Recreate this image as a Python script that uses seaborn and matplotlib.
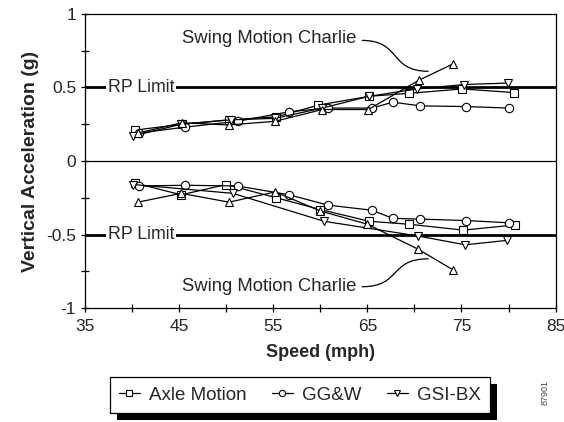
import pandas as pd
import seaborn as sns
import matplotlib.pyplot as plt
import numpy as np
from matplotlib.lines import Line2D
from matplotlib.patches import Rectangle, PathPatch
from matplotlib.path import Path

# upper (positive) and lower (negative) peaks
axle_up_x = [40.3, 45.3, 50.3, 55.3, 59.8, 65.2, 69.4, 75.1, 80.6]
axle_up_y = [0.21, 0.25, 0.28, 0.30, 0.38, 0.44, 0.46, 0.49, 0.465]
axle_lo_x = [40.3, 45.2, 50.0, 55.3, 60.0, 65.2, 69.4, 75.2, 80.7]
axle_lo_y = [-0.15, -0.23, -0.16, -0.25, -0.33, -0.41, -0.43, -0.47, -0.435]

ggw_x = [40.7, 45.6, 51.2, 56.7, 60.8, 65.5, 67.7, 70.6, 75.5, 80.0]
ggw_up_y = [0.19, 0.23, 0.27, 0.335, 0.36, 0.36, 0.40, 0.375, 0.37, 0.36]
ggw_lo_y = [-0.17, -0.165, -0.17, -0.23, -0.30, -0.335, -0.39, -0.395, -0.405, -0.42]

gsi_up_x = [40.1, 45.2, 50.5, 55.2, 60.2, 65.2, 70.3, 75.3, 79.9]
gsi_up_y = [0.17, 0.25, 0.28, 0.29, 0.36, 0.44, 0.49, 0.52, 0.53]
gsi_lo_x = [40.1, 50.7, 60.4, 70.4, 75.4, 79.8]
gsi_lo_y = [-0.16, -0.22, -0.41, -0.51, -0.57, -0.54]

charlie_up_x = [40.6, 45.3, 50.3, 55.2, 60.2, 65.1, 70.5, 74.1]
charlie_up_y = [0.19, 0.26, 0.245, 0.27, 0.35, 0.35, 0.55, 0.66]
charlie_lo_x = [40.6, 45.2, 50.3, 55.2, 60.0, 65.0, 70.4, 74.1]
charlie_lo_y = [-0.28, -0.22, -0.28, -0.21, -0.34, -0.43, -0.60, -0.74]

rp_limit = [0.5, -0.5]
xticks = [35, 45, 55, 65, 75, 85]
yticks = [-1, -0.5, 0, 0.5, 1]
ytick_labels = ['-1', '-0.5', '0', '0.5', '1']

sns.set_style("ticks")
plt.rcParams['font.family'] = ['Liberation Sans', 'DejaVu Sans']
plt.rcParams['axes.unicode_minus'] = False

fig = plt.figure(figsize=(5.64, 4.22), dpi=100)
ax = fig.add_axes([0.151, 0.270, 0.834, 0.697])

series = [
    ('Axle Motion', 's', axle_up_x, axle_up_y, axle_lo_x, axle_lo_y),
    ('GG&W', 'o', ggw_x, ggw_up_y, ggw_x, ggw_lo_y),
    ('GSI-BX', 'v', gsi_up_x, gsi_up_y, gsi_lo_x, gsi_lo_y),
    ('Swing Motion Charlie', '^', charlie_up_x, charlie_up_y, charlie_lo_x, charlie_lo_y),
]

rows = []
for name, m, ux, uy, lx, ly in series:
    for x, y in zip(ux, uy):
        rows.append({'series': name, 'half': 'up', 'Speed': x, 'Acc': y})
    for x, y in zip(lx, ly):
        rows.append({'series': name, 'half': 'lo', 'Speed': x, 'Acc': y})
df = pd.DataFrame(rows)

for name, m, *_ in series:
    for half in ['up', 'lo']:
        sub = df[(df.series == name) & (df.half == half)]
        sns.lineplot(ax=ax, data=sub, x='Speed', y='Acc', sort=False, estimator=None,
                     color='black', lw=0.9, marker=m, markersize=6,
                     markerfacecolor='white', markeredgecolor='black', markeredgewidth=0.8,
                     legend=False, zorder=3)

# reference lines
ax.axhline(0, color='black', lw=0.9, zorder=1)
for v in rp_limit:
    ax.axhline(v, color='black', lw=2.0, zorder=1)
    ax.text(37.4, v, 'RP Limit', fontsize=12.8, va='center', ha='left',
            bbox=dict(facecolor='white', edgecolor='none', pad=1), zorder=2)

# Swing Motion Charlie labels with curvy leaders
def leader(x0, y0, x1, y1):
    dx = (x1 - x0) * 0.6
    verts = [(x0, y0), (x0 + dx, y0), (x1 - dx, y1), (x1, y1)]
    p = Path(verts, [Path.MOVETO, Path.CURVE4, Path.CURVE4, Path.CURVE4])
    ax.add_patch(PathPatch(p, fill=False, lw=0.9, color='black', zorder=2))

ax.text(63.8, 0.83, 'Swing Motion Charlie', fontsize=13.3, ha='right', va='center')
leader(64.4, 0.82, 71.5, 0.61)
ax.text(63.8, -0.855, 'Swing Motion Charlie', fontsize=13.3, ha='right', va='center')
leader(64.4, -0.855, 71.5, -0.665)

ax.set_xlim(35, 85)
ax.set_ylim(-1, 1)
ax.set_xticks(xticks)
ax.set_xticks(np.arange(40, 85, 10), minor=True)
ax.set_yticks(yticks, ytick_labels)
ax.set_yticks([-0.75, -0.25, 0.25, 0.75], minor=True)
ax.tick_params(which='both', direction='inout', length=6, width=0.9, labelsize=12.5, color='black')
ax.tick_params(axis='x', pad=5)
for s in ax.spines.values():
    s.set_color('black')
    s.set_linewidth(0.9)

ax.set_xlabel('Speed (mph)', fontsize=13, fontweight='bold', labelpad=7)
ax.set_ylabel('Vertical Acceleration (g)', fontsize=14, fontweight='bold', labelpad=5)

handles = [Line2D([], [], color='black', lw=0.9, marker=m, markersize=4.5,
                  markerfacecolor='white', markeredgecolor='black', markeredgewidth=0.8)
           for name, m, *_ in series[:3]]
labels = [name for name, *_ in series[:3]]
leg = fig.legend(handles, labels, loc='center', ncol=3, mode='expand',
                 bbox_to_anchor=(0.178, 0.017, 0.708, 0.094), fontsize=13.5,
                 frameon=True, fancybox=False, edgecolor='black', framealpha=1,
                 borderpad=0.5, handlelength=1.1, handletextpad=0.5, columnspacing=1.5)
leg.get_frame().set_linewidth(0.9)

fig.canvas.draw()
bb = leg.get_window_extent().transformed(fig.transFigure.inverted())
fig.patches.append(Rectangle((bb.x0 + 0.012, bb.y0 - 0.017), bb.width, bb.height,
                             transform=fig.transFigure, facecolor='black',
                             edgecolor='none', zorder=1))

fig.text(0.966, 0.07, '87901', rotation=90, fontsize=6.5, color='#444444', ha='center', va='center')

fig.savefig('out.png', dpi=100)
